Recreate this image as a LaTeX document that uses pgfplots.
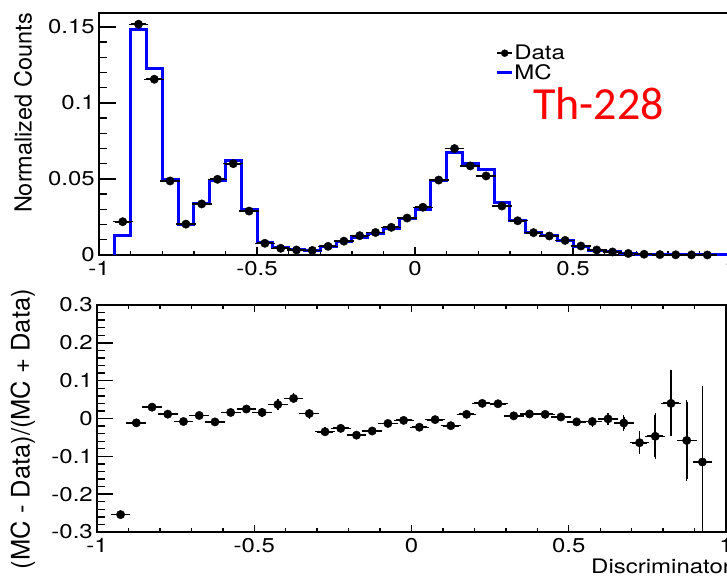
\documentclass[border=0pt]{standalone}
\usepackage{fontspec}
\setmainfont{TeX Gyre Heros}
\newfontfamily\hwide{TeX Gyre Heros}[FakeStretch=1.2]
\newfontfamily\calib{Carlito}
\usepackage{pgfplots}
\pgfplotsset{compat=1.18}
\pgfplotsset{rootax/.style={
  scale only axis,
  axis line style={line width=1.6pt},
  tick style={line width=1.4pt, black},
  tick align=inside,
  tick label style={font=\hwide\fontsize{20}{24}\selectfont, inner sep=0pt},
  /pgf/number format/assume math mode=true,
  xticklabel style={anchor=north, yshift=-6pt},
  yticklabel style={anchor=east, xshift=-4pt},
  xmin=-1, xmax=1,
  xtick={-1,-0.5,0,0.5,1}, xticklabels={-1,-0.5,0,0.5,1},
  minor x tick num=4, minor y tick num=4,
}}
\begin{document}
\begin{tikzpicture}
% ---------------- top panel ----------------
\begin{axis}[rootax,
  at={(99pt,320pt)}, anchor=south west, width=632pt, height=242pt,
  ymin=0, ymax=0.1592,
  ytick={0,0.05,0.1,0.15}, yticklabels={0,0.05,0.1,0.15},
  xtick pos=left, ytick pos=left,
  major tick length=17pt, minor tick length=8pt,
  every major x tick/.append style={/pgfplots/major tick length=8pt},
  every minor x tick/.append style={/pgfplots/minor tick length=4pt},
  clip=false,
  legend style={draw=none, fill=none, at={(0.628,0.872)}, anchor=north west,
    inner sep=0pt, row sep=1pt, column sep=0pt,
    font=\hwide\fontsize{20}{24}\selectfont, nodes={inner sep=1pt}},
  legend cell align=left,
]
\addplot[const plot, blue, line width=3pt, forget plot] coordinates {
(-0.95,0) (-0.95,0.0131) (-0.90,0.1483) (-0.85,0.1228) (-0.80,0.0498) (-0.75,0.0199)
(-0.70,0.0341) (-0.65,0.0489) (-0.60,0.0621) (-0.55,0.0302) (-0.50,0.0080)
(-0.45,0.0047) (-0.40,0.0037) (-0.35,0.0031) (-0.30,0.0053) (-0.25,0.0086)
(-0.20,0.0117) (-0.15,0.0139) (-0.10,0.0177) (-0.05,0.0241) (0.00,0.0300)
(0.05,0.0490) (0.10,0.0674) (0.15,0.0599) (0.20,0.0563) (0.25,0.0347)
(0.30,0.0228) (0.35,0.0151) (0.40,0.0128) (0.45,0.0097) (0.50,0.0058)
(0.55,0.0032) (0.60,0.0020) (0.65,0.0010) (0.70,0.00044) (0.75,0.00023)
(0.80,0.00013) (0.85,0.00006) (0.90,0.00003) (0.95,0) (1.00,0)
};
\addplot[only marks, mark=*, mark size=4.2pt, black, forget plot,
  error bars/.cd, x dir=both, x explicit,
  error bar style={line width=1.8pt},
  error mark options={mark size=2pt, line width=1.4pt}] coordinates {
(-0.925,0.0219) +- (0.025,0) (-0.875,0.1518) +- (0.025,0) (-0.825,0.1156) +- (0.025,0)
(-0.775,0.0487) +- (0.025,0) (-0.725,0.0203) +- (0.025,0) (-0.675,0.0336) +- (0.025,0)
(-0.625,0.0498) +- (0.025,0) (-0.575,0.0601) +- (0.025,0) (-0.525,0.0289) +- (0.025,0)
(-0.475,0.0077) +- (0.025,0) (-0.425,0.0044) +- (0.025,0) (-0.375,0.0033) +- (0.025,0)
(-0.325,0.0030) +- (0.025,0) (-0.275,0.0057) +- (0.025,0) (-0.225,0.0091) +- (0.025,0)
(-0.175,0.0127) +- (0.025,0) (-0.125,0.0148) +- (0.025,0) (-0.075,0.0182) +- (0.025,0)
(-0.025,0.0243) +- (0.025,0) (0.025,0.0314) +- (0.025,0) (0.075,0.0493) +- (0.025,0)
(0.125,0.0700) +- (0.025,0) (0.175,0.0586) +- (0.025,0) (0.225,0.0520) +- (0.025,0)
(0.275,0.0322) +- (0.025,0) (0.325,0.0225) +- (0.025,0) (0.375,0.0147) +- (0.025,0)
(0.425,0.0125) +- (0.025,0) (0.475,0.0096) +- (0.025,0) (0.525,0.0059) +- (0.025,0)
(0.575,0.0033) +- (0.025,0) (0.625,0.0020) +- (0.025,0) (0.675,0.0010) +- (0.025,0)
(0.725,0.0005) +- (0.025,0) (0.775,0.00025) +- (0.025,0) (0.825,0.00012) +- (0.025,0)
(0.875,0.00007) +- (0.025,0) (0.925,0.00004) +- (0.025,0)
};
\addlegendimage{legend image code/.code={
  \draw[black, line width=2pt] (0pt,0pt) -- (15pt,0pt);
  \draw[black, fill=black] plot[mark=*, mark size=3.5pt] coordinates {(7.5pt,0pt)};}}
\addlegendentry{Data}
\addlegendimage{legend image code/.code={
  \draw[blue, line width=2.2pt] (0pt,0pt) -- (15pt,0pt);}}
\addlegendentry{MC}
\end{axis}
% ---------------- bottom panel ----------------
\begin{axis}[rootax,
  at={(97pt,43pt)}, anchor=south west, width=629pt, height=227pt,
  ymin=-0.3, ymax=0.3,
  ytick={-0.3,-0.2,-0.1,0,0.1,0.2,0.3},
  yticklabels={-0.3,-0.2,-0.1,0,0.1,0.2,0.3},
  xtick pos=both, ytick pos=left,
  major tick length=16pt, minor tick length=8pt,
  every major x tick/.append style={/pgfplots/major tick length=7pt},
  every minor x tick/.append style={/pgfplots/minor tick length=4pt},
  clip=true,
]
\addplot[only marks, mark=*, mark size=4.2pt, black,
  error bars/.cd, x dir=both, x explicit, y dir=both, y explicit,
  error bar style={line width=1.8pt},
  error mark options={mark size=2pt, line width=1.4pt}] coordinates {
(-0.925,-0.254) +- (0.025,0.005) (-0.875,-0.0115) +- (0.025,0.003)
(-0.825,0.030) +- (0.025,0.003) (-0.775,0.0115) +- (0.025,0.003)
(-0.725,-0.008) +- (0.025,0.004) (-0.675,0.008) +- (0.025,0.004)
(-0.625,-0.009) +- (0.025,0.003) (-0.575,0.016) +- (0.025,0.003)
(-0.525,0.025) +- (0.025,0.004) (-0.475,0.016) +- (0.025,0.006)
(-0.425,0.037) +- (0.025,0.008) (-0.375,0.053) +- (0.025,0.008)
(-0.325,0.013) +- (0.025,0.008) (-0.275,-0.035) +- (0.025,0.006)
(-0.225,-0.026) +- (0.025,0.005) (-0.175,-0.044) +- (0.025,0.004)
(-0.125,-0.033) +- (0.025,0.004) (-0.075,-0.013) +- (0.025,0.004)
(-0.025,-0.005) +- (0.025,0.003) (0.025,-0.023) +- (0.025,0.003)
(0.075,-0.003) +- (0.025,0.002) (0.125,-0.019) +- (0.025,0.002)
(0.175,0.011) +- (0.025,0.002) (0.225,0.040) +- (0.025,0.002)
(0.275,0.039) +- (0.025,0.003) (0.325,0.007) +- (0.025,0.003)
(0.375,0.012) +- (0.025,0.004) (0.425,0.011) +- (0.025,0.004)
(0.475,0.004) +- (0.025,0.005) (0.525,-0.009) +- (0.025,0.006)
(0.575,-0.008) +- (0.025,0.008) (0.625,-0.001) +- (0.025,0.010)
(0.675,-0.012) +- (0.025,0.015) (0.725,-0.064) +- (0.025,0.025)
(0.775,-0.047) +- (0.025,0.055) (0.825,0.040) +- (0.025,0.082)
(0.875,-0.058) +- (0.025,0.102) (0.925,-0.115) +- (0.025,0.196)
};
\end{axis}
% ---------------- titles ----------------
\node[rotate=90, anchor=base east, inner sep=0pt]
  at (31.7pt,562pt) {\fontsize{23.5}{26}\selectfont Normalized Counts};
\node[rotate=90, anchor=base east, inner sep=0pt]
  at (29.5pt,286pt) {\fontsize{25.5}{28}\selectfont (MC - Data)/(MC + Data)};
\node[anchor=base west, inner sep=0pt]
  at (591pt,2pt) {\hwide\fontsize{20}{24}\selectfont Discriminator};
\node[anchor=base west, inner sep=0pt, text=red]
  at (533pt,455pt) {\calib\fontsize{46}{50}\selectfont Th-228};
\pgfresetboundingbox
\path[use as bounding box] (0pt,0pt) rectangle (727pt,575pt);
\end{tikzpicture}
\end{document}
